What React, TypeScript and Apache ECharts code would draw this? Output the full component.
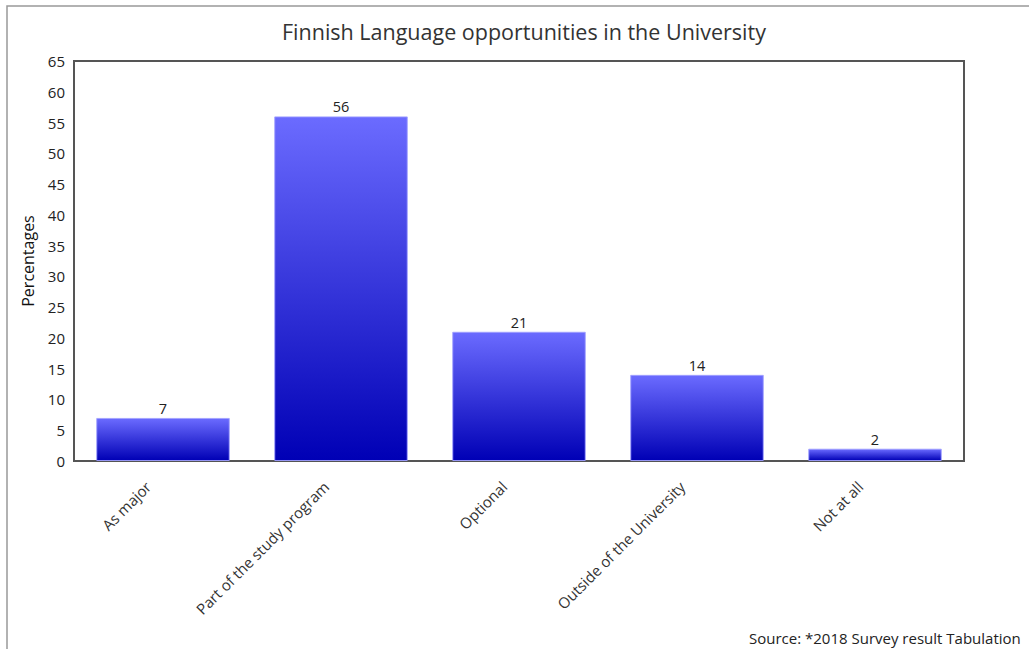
import React, { useEffect, useRef } from "react";
import * as echarts from "echarts";

const categories = ["As major", "Part of the study program", "Optional", "Outside of the University", "Not at all"];
const values = [7, 56, 21, 14, 2];
const titleText = "Finnish Language opportunities in the University";
const yAxisName = "Percentages";
const sourceText = "Source: *2018 Survey result Tabulation";

export default function App() {
  const ref = useRef<HTMLDivElement>(null);
  useEffect(() => {
    if (!ref.current) return;
    const chart = echarts.init(ref.current, null, { renderer: "svg" });
    const font = "'Open Sans', 'Noto Sans', sans-serif";
    chart.setOption({
      animation: false,
      backgroundColor: "#fff",
      title: {
        text: titleText,
        left: 277,
        top: 15,
        textStyle: { fontFamily: font, fontSize: 21.5, fontWeight: "normal", color: "#333" },
      },
      grid: {
        left: 74,
        right: 65,
        top: 61,
        bottom: 188,
        show: true,
        borderColor: "#555",
        borderWidth: 2,
        containLabel: false,
      },
      xAxis: {
        type: "category",
        data: categories,
        axisLine: { show: true, lineStyle: { color: "#555", width: 2 } },
        axisTick: { show: false },
        axisLabel: {
          rotate: 45,
          interval: 0,
          margin: 8,
          padding: [0, 21, 0, 0],
          fontFamily: font,
          fontSize: 15,
          color: "#333",
        },
      },
      yAxis: {
        type: "value",
        min: 0,
        max: 65,
        interval: 5,
        name: yAxisName,
        nameLocation: "middle",
        nameGap: 38,
        nameTextStyle: { fontFamily: font, fontSize: 16, color: "#111" },
        axisLine: { show: true, lineStyle: { color: "#555", width: 2 } },
        axisTick: { show: false },
        splitLine: { show: false },
        axisLabel: { fontFamily: font, fontSize: 15, color: "#222", margin: 9 },
      },
      series: [
        {
          type: "bar",
          data: values,
          barCategoryGap: "25%",
          itemStyle: {
            color: new echarts.graphic.LinearGradient(0, 0, 0, 1, [
              { offset: 0, color: "#6b6bff" },
              { offset: 1, color: "#0000b5" },
            ]),
            borderColor: "rgba(160,160,255,0.9)",
            borderWidth: 1,
          },
          label: {
            show: true,
            position: "top",
            distance: 2,
            fontFamily: font,
            fontSize: 14.5,
            color: "#222",
          },
        },
      ],
      graphic: [
        {
          type: "rect",
          shape: { x: 7, y: 6, width: 1100, height: 800 },
          style: { fill: "none", stroke: "#999", lineWidth: 1.5 },
          silent: true,
        },
        {
          type: "text",
          x: 749,
          y: 638,
          style: {
            text: sourceText,
            font: "15px 'Open Sans', 'Noto Sans', sans-serif",
            fill: "#222",
            textVerticalAlign: "middle",
          },
        },
      ],
    });
    return () => chart.dispose();
  }, []);
  return (
    <div
      ref={ref}
      style={{ position: "fixed", left: 0, top: 0, width: 1029, height: 649 }}
    />
  );
}
